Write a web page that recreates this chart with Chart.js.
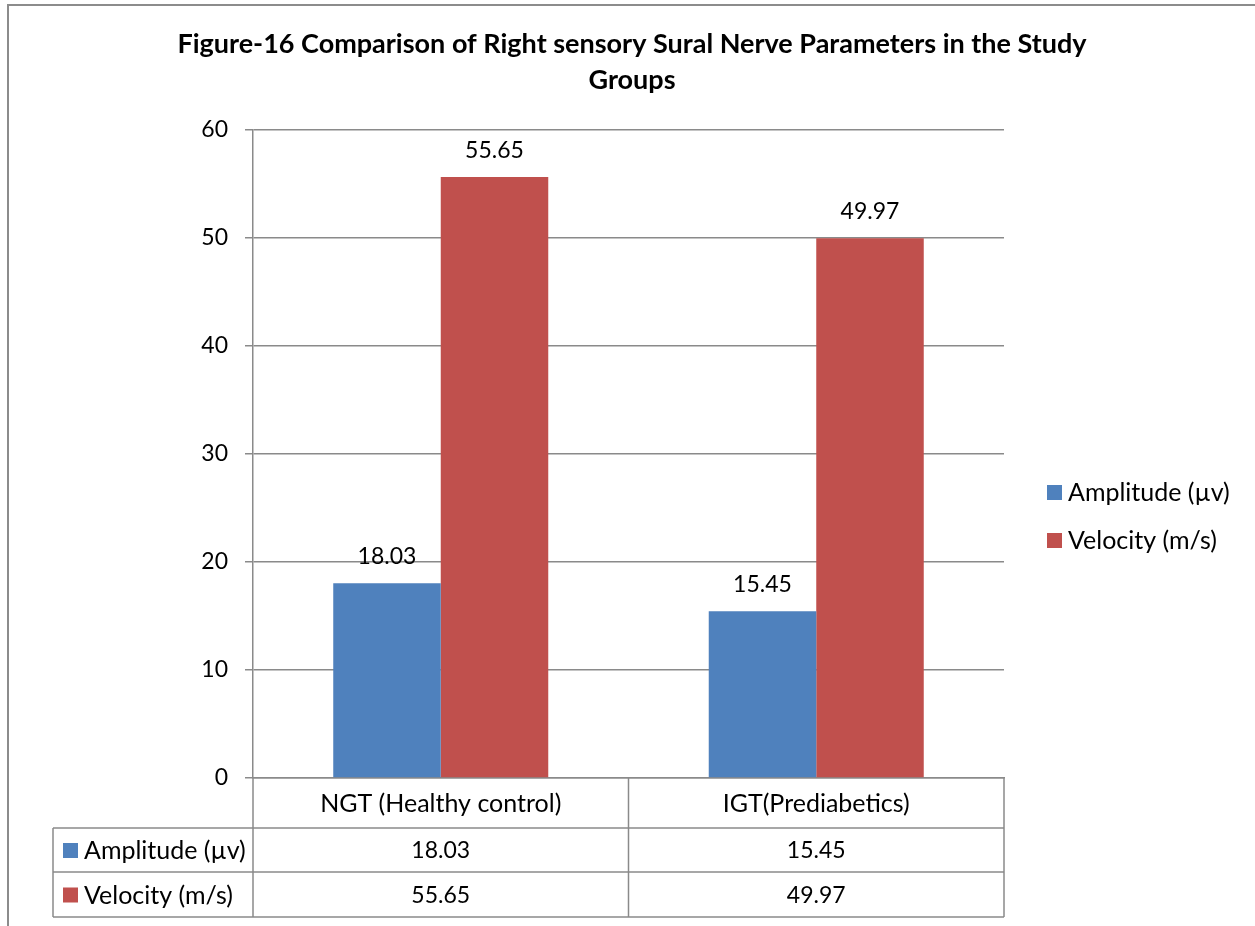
<!DOCTYPE html>
<html>
<head>
<meta charset="utf-8">
<script src="https://cdn.jsdelivr.net/npm/chart.js@4"></script>
<style>
  html, body { margin: 0; padding: 0; background: #fff; }
  #wrap { width: 1255px; height: 926px; }
</style>
</head>
<body>
<div id="wrap"><canvas id="myChart" width="1255" height="926"></canvas></div>
<script>
"use strict";

//--------------------DATA

let categories = ["NGT (Healthy control)", "IGT(Prediabetics)"];
let amplitude = [18.03, 15.45];
let velocity = [55.65, 49.97];
let seriesNames = ["Amplitude (\u00b5v)", "Velocity (m/s)"];
let seriesColors = ["#4F81BD", "#C0504D"];
let titleLines = [
  "Figure-16 Comparison of Right sensory Sural Nerve Parameters in the Study",
  "Groups",
];
let yMin = 0;
let yMax = 60;
let yStep = 10;

const FONT = "Lato, 'Open Sans', sans-serif";
const GRID = "#8a8a8a";
const NUM_FONT = "23px " + FONT; // numbers
const TEXT_FONT = "25px " + FONT; // words

//--------------------PLUGINS

// outer frame (left + top edge only visible in the picture)
const framePlugin = {
  id: "frame",
  beforeDraw(chart) {
    const ctx = chart.ctx;
    ctx.save();
    ctx.fillStyle = "#fff";
    ctx.fillRect(0, 0, chart.width, chart.height);
    ctx.strokeStyle = "#8c8c8c";
    ctx.lineWidth = 2;
    ctx.beginPath();
    ctx.moveTo(8, chart.height);
    ctx.lineTo(8, 5);
    ctx.lineTo(chart.width, 5);
    ctx.stroke();
    ctx.restore();
  },
};

// title, value labels, legend and data table
const extrasPlugin = {
  id: "extras",
  afterDraw(chart) {
    const ctx = chart.ctx;
    const area = chart.chartArea;
    const x = chart.scales.x;
    ctx.save();

    // title
    ctx.fillStyle = "#000";
    ctx.font = "bold 27px " + FONT;
    ctx.textAlign = "center";
    ctx.textBaseline = "alphabetic";
    ctx.fillText(titleLines[0], 632, 53);
    ctx.fillText(titleLines[1], 632, 89);

    // value labels above bars
    ctx.font = NUM_FONT;
    chart.data.datasets.forEach(function (ds, i) {
      chart.getDatasetMeta(i).data.forEach(function (bar, j) {
        ctx.fillText(ds.data[j].toFixed(2), bar.x, bar.y - 19);
      });
    });

    // legend on the right
    ctx.font = TEXT_FONT;
    ctx.textAlign = "left";
    ctx.textBaseline = "middle";
    let legendY = [492, 540];
    for (let i = 0; i < seriesNames.length; i++) {
      ctx.fillStyle = seriesColors[i];
      ctx.fillRect(1047, legendY[i] - 7, 15, 15);
      ctx.fillStyle = "#000";
      ctx.fillText(seriesNames[i], 1068, legendY[i] + 1);
    }

    // data table
    const half = (x.getPixelForValue(1) - x.getPixelForValue(0)) / 2;
    const top = area.bottom;
    const rows = [top, 828, 872, 917];
    const tableLeft = 53;
    const colEdges = [area.left];
    for (let j = 0; j < categories.length; j++) {
      colEdges.push(x.getPixelForValue(j) + half);
    }

    ctx.strokeStyle = GRID;
    ctx.lineWidth = 1.5;
    ctx.beginPath();
    // vertical lines
    colEdges.forEach(function (cx) {
      ctx.moveTo(cx, top);
      ctx.lineTo(cx, rows[3]);
    });
    ctx.moveTo(tableLeft, rows[1]);
    ctx.lineTo(tableLeft, rows[3]);
    // horizontal lines
    for (let r = 1; r < rows.length; r++) {
      ctx.moveTo(tableLeft, rows[r]);
      ctx.lineTo(colEdges[colEdges.length - 1], rows[r]);
    }
    ctx.stroke();

    ctx.fillStyle = "#000";
    ctx.textAlign = "center";
    categories.forEach(function (c, j) {
      ctx.fillText(c, x.getPixelForValue(j), (rows[0] + rows[1]) / 2 + 1);
    });
    let seriesData = [amplitude, velocity];
    for (let i = 0; i < seriesNames.length; i++) {
      const cy = (rows[i + 1] + rows[i + 2]) / 2 + 1;
      ctx.fillStyle = seriesColors[i];
      ctx.fillRect(63, cy - 8, 15, 15);
      ctx.fillStyle = "#000";
      ctx.textAlign = "left";
      ctx.font = TEXT_FONT;
      ctx.fillText(seriesNames[i], 84, cy);
      ctx.textAlign = "center";
      ctx.font = NUM_FONT;
      seriesData[i].forEach(function (v, j) {
        ctx.fillText(v.toFixed(2), x.getPixelForValue(j), cy);
      });
    }
    ctx.restore();
  },
};

//--------------------CHART

const ctx = document.getElementById("myChart").getContext("2d");
const myChart = new Chart(ctx, {
  type: "bar",
  data: {
    labels: categories,
    datasets: [
      {
        label: seriesNames[0],
        data: amplitude,
        backgroundColor: seriesColors[0],
        borderWidth: 0,
      },
      {
        label: seriesNames[1],
        data: velocity,
        backgroundColor: seriesColors[1],
        borderWidth: 0,
      },
    ],
  },
  options: {
    responsive: false,
    animation: false,
    events: [],
    layout: {
      padding: { top: 130, left: 0, right: 251, bottom: 148 },
    },
    datasets: {
      bar: { categoryPercentage: 0.5726, barPercentage: 1 },
    },
    plugins: {
      legend: { display: false },
      title: { display: false },
      tooltip: { enabled: false },
    },
    scales: {
      x: {
        ticks: { display: false },
        grid: { display: false },
        border: { display: true, color: GRID, width: 1.5 },
        afterFit(scale) {
          scale.height = 0;
        },
      },
      y: {
        min: yMin,
        max: yMax,
        ticks: {
          stepSize: yStep,
          padding: 17,
          color: "#000",
          font: { family: FONT, size: 23 },
        },
        grid: { color: GRID, lineWidth: 1.5, tickLength: 8 },
        border: { display: true, color: GRID, width: 1.5 },
        afterFit(scale) {
          scale.width = 253;
        },
      },
    },
  },
  plugins: [framePlugin, extrasPlugin],
});
</script>
</body>
</html>
